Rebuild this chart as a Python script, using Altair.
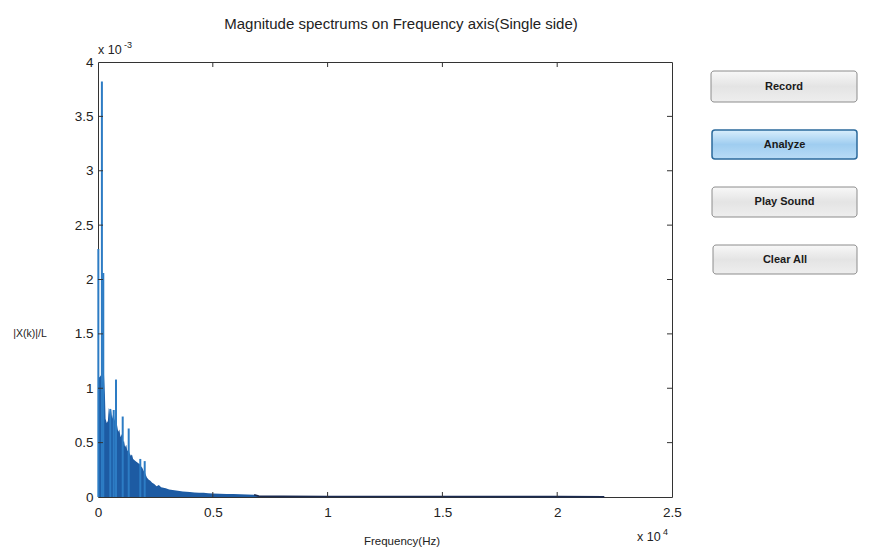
import altair as alt
import pandas as pd

# ---------------- data ----------------
# envelope of the single-sided magnitude spectrum: frequency (Hz), |X(k)|/L (x 1e-3)
env_freq = [0, 60, 130, 200, 260, 300, 330, 380, 430, 470, 520, 570, 620, 680, 720,
            780, 830, 880, 930, 980, 1030, 1080, 1130, 1180, 1230, 1280, 1330, 1380,
            1430, 1480, 1530, 1580, 1630, 1700, 1760, 1830, 1880, 1930, 1990, 2050,
            2130, 2200, 2280, 2360, 2450, 2550, 2650, 2750, 2850, 2950, 3100, 3250,
            3400, 3550, 3700, 3850, 4000, 4200, 4400, 4600, 4800, 5000, 5300, 5600,
            5900, 6200, 6500, 6800, 7000, 8000, 10000, 12000, 15000, 18000, 20000, 22050]
env_mag = [1.13, 1.10, 1.12, 1.05, 1.13, 0.95, 0.72, 0.68, 0.70, 0.82, 0.76, 0.80, 0.72, 0.79, 0.70,
           0.76, 0.66, 0.60, 0.62, 0.55, 0.58, 0.50, 0.52, 0.46, 0.48, 0.42, 0.44, 0.40,
           0.38, 0.39, 0.35, 0.34, 0.33, 0.32, 0.31, 0.30, 0.28, 0.27, 0.24, 0.22,
           0.18, 0.16, 0.15, 0.13, 0.12, 0.10, 0.11, 0.09, 0.085, 0.08, 0.07, 0.065,
           0.06, 0.055, 0.05, 0.048, 0.045, 0.042, 0.04, 0.038, 0.035, 0.033, 0.03, 0.028,
           0.027, 0.025, 0.022, 0.02, 0.008, 0.006, 0.005, 0.004, 0.004, 0.003, 0.003, 0.002]

# isolated spectral peaks
spike_freq = [15, 170, 230, 536, 684, 784, 1076, 1337, 1842, 2034]
spike_mag = [2.28, 3.82, 2.06, 0.81, 0.80, 1.08, 0.74, 0.63, 0.35, 0.33]

x_ticks = [0, 5000, 10000, 15000, 20000, 25000]
y_ticks = [0, 0.5, 1, 1.5, 2, 2.5, 3, 3.5, 4]
x_inner_ticks = [5000, 10000, 15000, 20000]
y_inner_ticks = [0.5, 1, 1.5, 2, 2.5, 3, 3.5]

buttons = ["Record", "Analyze", "Play Sound", "Clear All"]

# ---------------- chart ----------------
W, H = 574, 435
FONT = "Liberation Sans"
INK = "#222222"

env_df = pd.DataFrame({"freq": env_freq, "mag": env_mag})
spk_df = pd.DataFrame({"freq": spike_freq, "mag": spike_mag})
xt_df = pd.DataFrame({"freq": x_inner_ticks})
yt_df = pd.DataFrame({"mag": y_inner_ticks})

xscale = alt.Scale(domain=[0, 25000], nice=False, zero=False)
yscale = alt.Scale(domain=[0, 4], nice=False)

xaxis = alt.Axis(values=x_ticks, labelExpr="format(datum.value/10000, '~g')", grid=False,
                 ticks=False, domain=False, labelPadding=8, labelFontSize=13.5,
                 labelFont=FONT, labelColor=INK, title=None, labelFlush=False)
yaxis = alt.Axis(values=y_ticks, labelExpr="format(datum.value, '~g')", grid=False,
                 ticks=False, domain=False, labelPadding=5, labelFontSize=13.5,
                 labelFont=FONT, labelColor=INK, title=None)

area = alt.Chart(env_df).mark_area(color="#1d5ba3", opacity=1).encode(
    x=alt.X("freq:Q", scale=xscale, axis=xaxis),
    y=alt.Y("mag:Q", scale=yscale, axis=yaxis),
)

tail = alt.Chart(env_df).transform_filter("datum.freq >= 6800").mark_line(
    color="#1a2a50", strokeWidth=1.6).encode(x="freq:Q", y="mag:Q")

spikes = alt.Chart(spk_df).mark_rule(color="#2d7cc4", strokeWidth=2).encode(
    x="freq:Q", y="mag:Q", y2=alt.datum(0))

xt_bottom = alt.Chart(xt_df).mark_rule(color="#333333").encode(
    x="freq:Q", y=alt.value(H), y2=alt.value(H - 5))
xt_top = alt.Chart(xt_df).mark_rule(color="#333333").encode(
    x="freq:Q", y=alt.value(0), y2=alt.value(5))
yt_left = alt.Chart(yt_df).mark_rule(color="#333333").encode(
    y="mag:Q", x=alt.value(0), x2=alt.value(5))
yt_right = alt.Chart(yt_df).mark_rule(color="#333333").encode(
    y="mag:Q", x=alt.value(W), x2=alt.value(W - 5))


def label(text, x, y, size, align="center", weight="normal", color=INK):
    return alt.Chart(alt.Data(values=[{}])).mark_text(
        text=text, font=FONT, fontSize=size, align=align, baseline="middle",
        fontWeight=weight, color=color).encode(x=alt.value(x), y=alt.value(y))


texts = [
    label("Magnitude spectrums on Frequency axis(Single side)", 303, -38, 15),
    label("x 10", 0, -12, 12.5, align="left"),
    label("-3", 26, -17, 9, align="left"),
    label("x 10", 539, 475, 12.5, align="left"),
    label("4", 565, 470, 9, align="left"),
    label("Frequency(Hz)", 304, 480, 11.5),
    label("|X(k)|/L", -68, 272, 10.5),
]

gray_grad = alt.LinearGradient(gradient="linear", x1=0, y1=0, x2=0, y2=1,
                               stops=[alt.GradientStop(color="#f8f8f8", offset=0),
                                      alt.GradientStop(color="#e4e4e4", offset=0.5),
                                      alt.GradientStop(color="#eeeeee", offset=1)])
blue_grad = alt.LinearGradient(gradient="linear", x1=0, y1=0, x2=0, y2=1,
                               stops=[alt.GradientStop(color="#d9eefc", offset=0),
                                      alt.GradientStop(color="#9fcdf0", offset=0.5),
                                      alt.GradientStop(color="#b9dcf6", offset=1)])

btn_boxes = [(613, 759, 9, 40), (614, 759, 68, 97), (614, 759, 125, 155), (615, 759, 183, 212)]
btn_layers = []
for name, (x1, x2, y1, y2) in zip(buttons, btn_boxes):
    active = name == "Analyze"
    btn_layers.append(alt.Chart(alt.Data(values=[{}])).mark_rect(
        fill=blue_grad if active else gray_grad,
        stroke="#2b6a9c" if active else "#8c8c8c",
        strokeWidth=1.5 if active else 1, cornerRadius=3).encode(
        x=alt.value(x1), x2=alt.value(x2), y=alt.value(y1), y2=alt.value(y2)))
    btn_layers.append(label(name, (x1 + x2) / 2, (y1 + y2) / 2, 11, weight="bold", color="#1a1a1a"))

chart = alt.layer(area, tail, spikes, xt_bottom, xt_top, yt_left, yt_right,
                  *texts, *btn_layers).properties(
    width=W, height=H,
    padding={"left": 98, "top": 62, "right": 203, "bottom": 53},
    autosize=alt.AutoSizeParams(type="none"),
    background="white",
).configure_view(stroke="#333333", strokeWidth=1)

chart.save("out.html", embed_options={"renderer": "svg", "actions": False})
